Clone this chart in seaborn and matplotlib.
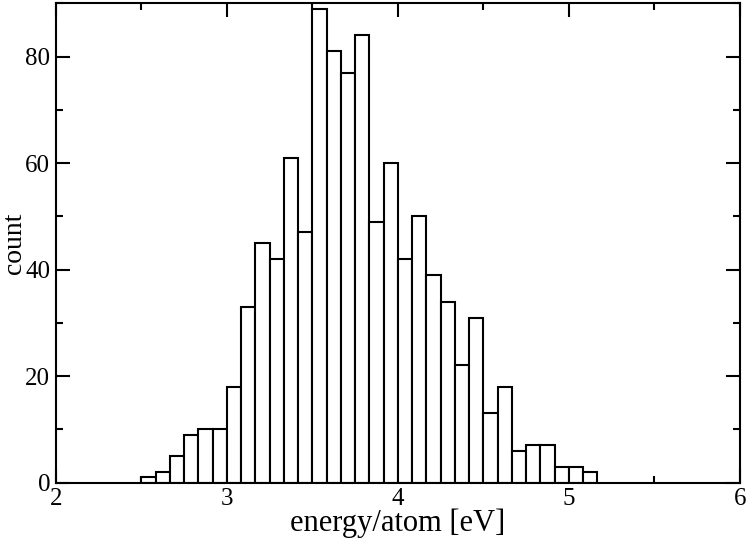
import numpy as np
import pandas as pd
import matplotlib
matplotlib.use("Agg")
import matplotlib.pyplot as plt
import seaborn as sns
from matplotlib.ticker import MultipleLocator

# Data
bin_start = 2.5
bin_width = 1.0 / 12.0
counts = [1, 2, 5, 9, 10, 10, 18, 33, 45, 42, 61, 47, 89, 81, 77, 84,
          49, 60, 42, 50, 39, 34, 22, 31, 13, 18, 6, 7, 7, 3, 3, 2]
x_label = "energy/atom [eV]"
y_label = "count"

edges = bin_start + bin_width * np.arange(len(counts) + 1)
centers = (edges[:-1] + edges[1:]) / 2
df = pd.DataFrame({"energy": centers, "count": counts})

sns.set_theme(style="ticks")
plt.rcParams['font.family'] = ['Liberation Serif', 'DejaVu Serif']
plt.rcParams['mathtext.fontset'] = 'stix'

fig = plt.figure(figsize=(7.47, 5.41), dpi=100)
ax = fig.add_axes([0.0746, 0.1078, 0.9160, 0.8861])

sns.histplot(data=df, x="energy", weights="count", bins=[float(e) for e in edges],
             color="white", edgecolor="black", linewidth=1.5, alpha=1.0, ax=ax)

ax.set_xlim(2, 6)
ax.set_ylim(0, 90)
ax.xaxis.set_major_locator(MultipleLocator(1))
ax.xaxis.set_minor_locator(MultipleLocator(0.5))
ax.yaxis.set_major_locator(MultipleLocator(20))
ax.yaxis.set_minor_locator(MultipleLocator(10))
ax.tick_params(which="both", direction="in", top=True, right=True,
               colors="black", labelcolor="black", labelsize=18, width=1.5)
ax.tick_params(which="major", length=10, pad=4)
ax.tick_params(which="minor", length=5)
for s in ax.spines.values():
    s.set_linewidth(1.5)
    s.set_color("black")
ax.set_xlabel(x_label, fontsize=22, labelpad=-1, color="black")
ax.set_ylabel(y_label, fontsize=20, labelpad=-1, color="black")

fig.savefig("out.png", dpi=100)
